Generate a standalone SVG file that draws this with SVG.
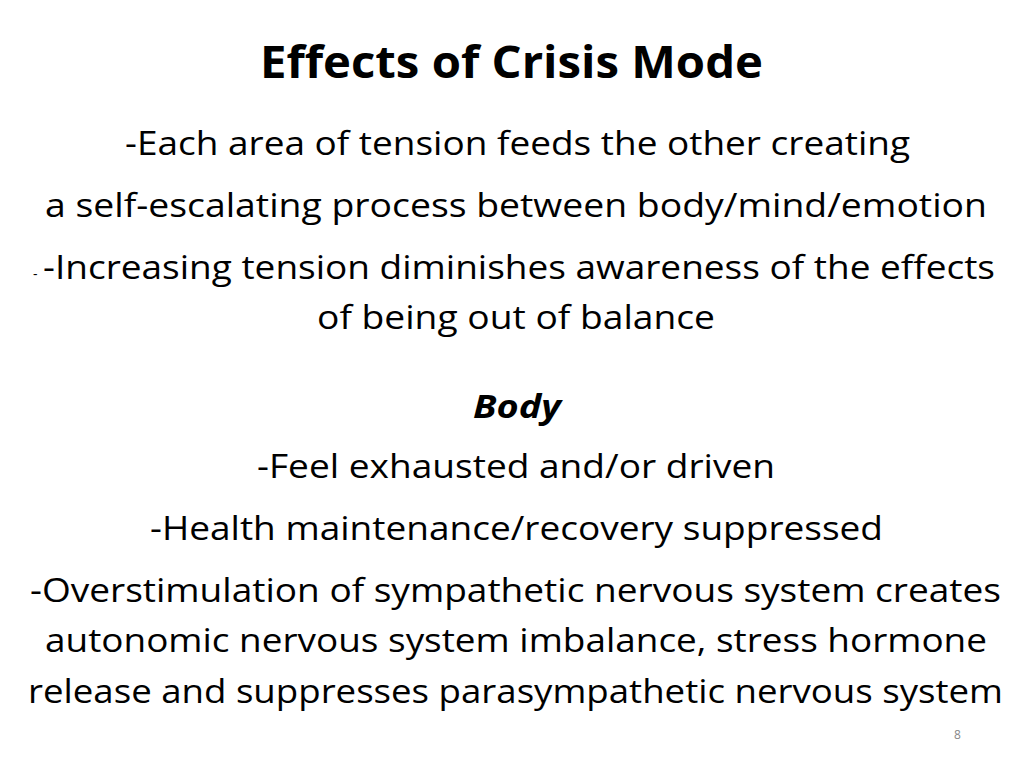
<svg xmlns="http://www.w3.org/2000/svg" width="1024" height="768" viewBox="0 0 1024 768">
<style>
text{font-family:"Open Sans","Liberation Sans",sans-serif;fill:#000;}
.b{font-size:33px;}
</style>
<rect width="1024" height="768" fill="#fff"/>
<text x="260" y="78" font-size="44" font-weight="bold" textLength="503" lengthAdjust="spacingAndGlyphs">Effects of Crisis Mode</text>
<text class="b" x="125" y="155" textLength="785" lengthAdjust="spacingAndGlyphs">-Each area of tension feeds the other creating</text>
<text class="b" x="45" y="217" textLength="942" lengthAdjust="spacingAndGlyphs">a self-escalating process between body/mind/emotion</text>
<text x="33" y="279" font-size="14">-</text>
<text class="b" x="43" y="279" textLength="952" lengthAdjust="spacingAndGlyphs">-Increasing tension diminishes awareness of the effects</text>
<text class="b" x="317" y="329" textLength="398" lengthAdjust="spacingAndGlyphs">of being out of balance</text>
<text class="b" x="473" y="418" font-weight="bold" font-style="italic" textLength="88" lengthAdjust="spacingAndGlyphs">Body</text>
<text class="b" x="257" y="478" textLength="518" lengthAdjust="spacingAndGlyphs">-Feel exhausted and/or driven</text>
<text class="b" x="150" y="540" textLength="733" lengthAdjust="spacingAndGlyphs">-Health maintenance/recovery suppressed</text>
<text class="b" x="30" y="602" textLength="971" lengthAdjust="spacingAndGlyphs">-Overstimulation of sympathetic nervous system creates</text>
<text class="b" x="45" y="652" textLength="942" lengthAdjust="spacingAndGlyphs">autonomic nervous system imbalance, stress hormone</text>
<text class="b" x="28" y="703" textLength="975" lengthAdjust="spacingAndGlyphs">release and suppresses parasympathetic nervous system</text>
<text x="954" y="739" font-size="12" fill="#888" style="fill:#888">8</text>
</svg>
